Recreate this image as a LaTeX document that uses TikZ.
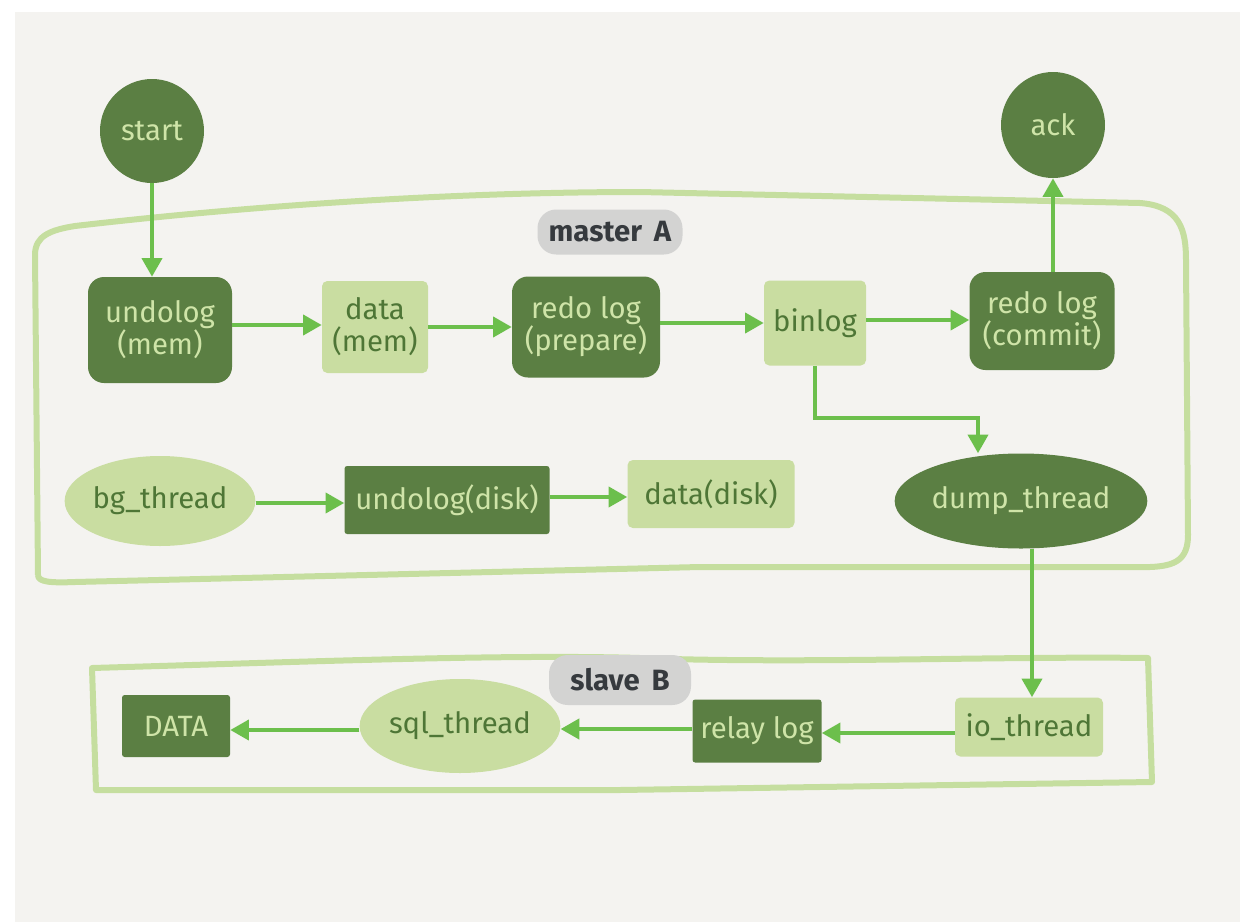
\documentclass[tikz,border=0pt]{standalone}
\usepackage{fontspec}
\setmainfont{Fira Sans}
\usetikzlibrary{shapes.geometric,arrows.meta}
\definecolor{bgc}{HTML}{F4F3F0}
\definecolor{dkg}{HTML}{5B7F43}
\definecolor{ltg}{HTML}{C9DDA1}
\definecolor{dktxt}{HTML}{4E7636}
\definecolor{lttxt}{HTML}{CFE4A8}
\definecolor{arr}{HTML}{6CBF4C}
\definecolor{frame}{HTML}{C5DE9F}
\definecolor{tagbg}{HTML}{D3D3D2}
\definecolor{tagtxt}{HTML}{363A3E}
\tikzset{
  txt/.style={font=\fontsize{22}{24}\selectfont, align=center, inner sep=0pt},
  darkbox/.style={txt, fill=dkg, text=lttxt, rectangle, rounded corners=12pt},
  lightbox/.style={txt, fill=ltg, text=dktxt, rectangle, rounded corners=4pt},
  darkrect/.style={txt, fill=dkg, text=lttxt, rectangle, rounded corners=2pt},
  darkround/.style={txt, fill=dkg, text=lttxt, ellipse},
  lightround/.style={txt, fill=ltg, text=dktxt, ellipse},
  tag/.style={txt, font=\fontsize{22}{24}\selectfont\bfseries, fill=tagbg, text=tagtxt, rounded corners=14pt},
  flow/.style={draw=arr, line width=3pt, -{Triangle[length=14pt,width=15pt]}},
  region/.style={draw=frame, line width=4.5pt, line join=round},
}
\begin{document}
\begin{tikzpicture}[x=0.75pt,y=-0.75pt]
\useasboundingbox (0,0) rectangle (1240,922);
\fill[white] (0,0) rectangle (1240,922);
\fill[bgc] (15,12) rectangle (1240,922);

% region frames
\draw[region] (38,575) -- (35,255) .. controls (35,236) and (50,230) .. (75,226)
  .. controls (300,200) and (500,192) .. (640,192) -- (1140,203)
  .. controls (1180,206) and (1186,230) .. (1186,260)
  -- (1188,535) .. controls (1188,560) and (1175,566) .. (1150,567)
  -- (700,567) -- (75,582) .. controls (50,583) and (38,582) .. (38,575);
\draw[region] (92,668) .. controls (300,662) and (500,654) .. (640,658)
  .. controls (800,664) and (1000,656) .. (1148,658)
  -- (1152,782) -- (620,790) -- (96,790) -- cycle;

% tags
\node[tag, minimum width=145pt*0.75, minimum height=45pt*0.75] (mA) at (610,232) {master\, A};
\node[tag, minimum width=142pt*0.75, minimum height=50pt*0.75] (sB) at (620,680) {slave\, B};

% master nodes
\node[darkround, minimum width=104pt*0.75, minimum height=104pt*0.75] (start) at (152,131) {start};
\node[darkround, minimum width=104pt*0.75, minimum height=106pt*0.75] (ack) at (1053,125) {ack};
\node[darkbox, minimum width=144pt*0.75, minimum height=106pt*0.75] (undo) at (160,330) {undolog\\(mem)};
\node[lightbox, minimum width=106pt*0.75, minimum height=92pt*0.75] (data) at (375,327) {data\\(mem)};
\node[darkbox, minimum width=148pt*0.75, minimum height=101pt*0.75] (redop) at (586,327) {redo log\\(prepare)};
\node[lightbox, minimum width=102pt*0.75, minimum height=85pt*0.75] (bin) at (815,323) {binlog};
\node[darkbox, minimum width=145pt*0.75, minimum height=98pt*0.75] (redoc) at (1042,321) {redo log\\(commit)};
\node[lightround, minimum width=190pt*0.75, minimum height=90pt*0.75] (bg) at (160,501) {bg\_thread};
\node[darkrect, minimum width=205pt*0.75, minimum height=68pt*0.75] (undod) at (447,500) {undolog(disk)};
\node[lightbox, minimum width=167pt*0.75, minimum height=68pt*0.75] (datad) at (711,494) {data(disk)};
\node[darkround, minimum width=233pt*0.75, minimum height=95pt*0.75] (dump) at (1021,501) {dump\_thread};

% slave nodes
\node[darkrect, minimum width=108pt*0.75, minimum height=62pt*0.75] (DATA) at (176,726) {DATA};
\node[lightround, minimum width=174pt*0.75, minimum height=94pt*0.75] (sql) at (460,726) {sql\_thread};
\node[darkrect, minimum width=129pt*0.75, minimum height=63pt*0.75] (relay) at (757,731) {relay log};
\node[lightbox, minimum width=148pt*0.75, minimum height=59pt*0.75] (io) at (1029,727) {io\_thread};

% connectors
\draw[flow] (start.south) -- (undo.north -| start.south);
\draw[flow] (undo.east |- 0,325) -- (data.west |- 0,325);
\draw[flow] (data.east |- 0,327) -- (redop.west |- 0,327);
\draw[flow] (redop.east |- 0,323) -- (bin.west |- 0,323);
\draw[flow] (bin.east |- 0,320) -- (redoc.west |- 0,320);
\draw[flow] (redoc.north -| ack.south) -- (ack.south);
\coordinate (b1) at (815,418);
\coordinate (b2) at (978,418);
\draw[flow] (bin.south) -- (b1) -- (b2) -- (b2 |- dump.north);
\draw[flow] (bg.east |- 0,503) -- (undod.west |- 0,503);
\draw[flow] (undod.east |- 0,497) -- (datad.west |- 0,497);
\draw[flow] (dump.south -| 1032,0) -- (io.north -| 1032,0);
\draw[flow] (io.west |- 0,733) -- (relay.east |- 0,733);
\draw[flow] (relay.west |- 0,729) -- (sql.east |- 0,729);
\draw[flow] (sql.west |- 0,730) -- (DATA.east |- 0,730);
\end{tikzpicture}
\end{document}
